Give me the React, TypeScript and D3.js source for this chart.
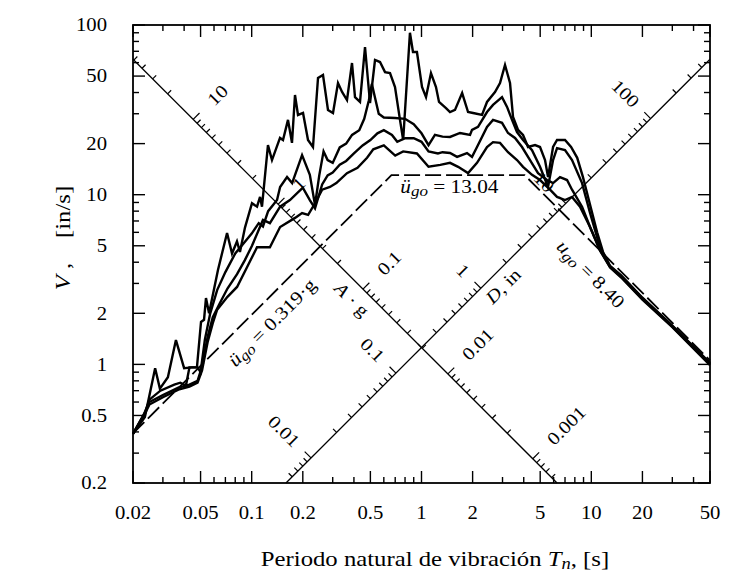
import React from 'react';
import * as d3 from 'd3';

// ---------- axis tick labels ----------
const periodTicks = [0.02, 0.05, 0.1, 0.2, 0.5, 1, 2, 5, 10, 20, 50];
const periodTickLabels = ['0.02', '0.05', '0.1', '0.2', '0.5', '1', '2', '5', '10', '20', '50'];
const velocityTicks = [0.2, 0.5, 1, 2, 5, 10, 20, 50, 100];
const velocityTickLabels = ['0.2', '0.5', '1', '2', '5', '10', '20', '50', '100'];

// ---------- tripartite reference axes ----------
const accelTickLabels = [10, 1, 0.1, 0.01, 0.001]; // A/g
const accelTickText = ['10', '1', '0.1', '0.01', '0.001'];
const dispTickLabels = [0.01, 0.1, 1, 10, 100]; // D, in
const dispTickText = ['0.01', '0.1', '1', '10', '100'];
const refLineV = 1.2566; // V (in/s) at Tn = 1 s where both reference axes cross
const gravity = 386.09; // in/s^2

// ---------- ground motion peaks ----------
const groundAccelG = 0.319;
const groundVel = 13.04;
const groundDisp = 8.4;

// ---------- response spectra: [Tn (s), V (in/s)] ----------
const spectrumZeta0: [number, number][] = [
  [0.02, 0.39], [0.0235, 0.49], [0.027, 0.95], [0.0288, 0.72], [0.0321, 0.84], [0.0358, 1.39],
  [0.04, 0.95], [0.0445, 0.96], [0.0476, 0.96], [0.0503, 1.78], [0.0524, 1.83], [0.0538, 2.46],
  [0.0561, 2.0], [0.0633, 3.6], [0.0716, 5.95], [0.0766, 4.5], [0.0819, 5.3], [0.0853, 4.6],
  [0.0913, 6.4], [0.1004, 8.9], [0.1075, 8.5], [0.112, 9.7], [0.115, 8.5], [0.1247, 19.6],
  [0.1317, 16.0], [0.1468, 21.6], [0.1529, 21.0], [0.1636, 27.6], [0.1727, 20.2], [0.1799, 38.7],
  [0.1874, 29.5], [0.2006, 30.3], [0.2146, 21.0], [0.2296, 19.1], [0.2458, 48.7], [0.263, 50.7],
  [0.2814, 31.6], [0.3012, 30.3], [0.3223, 45.5], [0.3406, 40.3], [0.3641, 36.1], [0.3897, 59.7],
  [0.4059, 37.6], [0.4344, 35.2], [0.4649, 74.2], [0.4975, 34.7], [0.5324, 62.2], [0.5697, 60.5],
  [0.6097, 52.8], [0.6524, 52.1], [0.6982, 43.1], [0.747, 27.6], [0.78, 21.0], [0.855, 90.0],
  [0.891, 69.3], [0.94, 69.3], [1.007, 43.1], [1.063, 37.6], [1.137, 52.1], [1.217, 43.1],
  [1.268, 35.2], [1.394, 32.4], [1.472, 30.7], [1.575, 31.6], [1.735, 39.7], [1.88, 30.7],
  [2.013, 30.3], [2.272, 29.5], [2.431, 35.2], [2.709, 40.3], [2.9, 45.5], [3.103, 58.1],
  [3.321, 45.5], [3.46, 28.7], [3.703, 24.1], [3.962, 22.5], [4.24, 19.1], [4.662, 19.6],
  [4.988, 19.1], [5.339, 16.0], [5.561, 12.7], [5.953, 19.1], [6.283, 21.0], [7.0, 21.0],
  [7.6, 19.1], [8.26, 16.5], [8.93, 12.7], [9.57, 9.7], [10.82, 6.0], [11.72, 4.6],
  [12.9, 3.8], [15, 3.35], [20, 2.47], [30, 1.69], [50, 1.02],
];

const spectrumZeta2: [number, number][] = [
  [0.02, 0.39], [0.0235, 0.52], [0.025, 0.62], [0.029, 0.7], [0.035, 0.76], [0.038, 0.78],
  [0.041, 0.75], [0.043, 0.96], [0.048, 0.96], [0.05, 0.9], [0.053, 1.4], [0.057, 2.0],
  [0.0626, 2.74], [0.07, 3.5], [0.08, 4.5], [0.09, 5.2], [0.1, 5.9], [0.11, 6.8],
  [0.1165, 6.5], [0.125, 8.0], [0.141, 9.3], [0.147, 11.1], [0.1615, 12.7], [0.173, 11.7],
  [0.198, 17.1], [0.22, 13.1], [0.236, 8.7], [0.25, 13], [0.265, 18], [0.28, 16],
  [0.3, 15.4], [0.33, 19], [0.36, 20], [0.39, 22.5], [0.43, 24], [0.46, 28],
  [0.49, 36], [0.51, 45], [0.53, 38], [0.56, 30], [0.6, 28.5], [0.7, 28.3],
  [0.8, 28], [0.9, 26], [1.0, 23], [1.1, 19.6], [1.2, 22.5], [1.33, 22],
  [1.472, 21.9], [1.686, 23.1], [1.931, 22.5], [1.984, 24.1], [2.152, 25.1], [2.431, 30.7],
  [2.637, 33.8], [2.98, 37.6], [3.19, 32.9], [3.413, 27.6], [3.652, 23.4], [3.962, 21.0],
  [4.476, 18.3], [4.988, 14.6], [5.561, 11.1], [5.953, 16.0], [6.283, 18.8], [7.0, 18.3],
  [7.7, 16.0], [8.82, 11.7], [9.83, 7.8], [11.25, 4.9], [12.9, 3.78], [15, 3.3],
  [20, 2.45], [30, 1.68], [50, 1.01],
];

const spectrumZeta5: [number, number][] = [
  [0.02, 0.39], [0.023, 0.5], [0.025, 0.6], [0.03, 0.66], [0.037, 0.73], [0.043, 0.76],
  [0.048, 0.8], [0.051, 0.97], [0.055, 1.45], [0.059, 1.9], [0.065, 2.3], [0.072, 2.8],
  [0.082, 3.4], [0.091, 4.1], [0.1004, 5.0], [0.1165, 7.1], [0.128, 6.8], [0.147, 8.5],
  [0.168, 9.3], [0.2, 11.0], [0.22, 9.3], [0.236, 8.3], [0.26, 11.5], [0.28, 13],
  [0.3, 13.5], [0.33, 15], [0.36, 15.8], [0.4, 17.5], [0.45, 19.5], [0.5, 21],
  [0.55, 23], [0.6, 24], [0.67, 22.5], [0.72, 20.5], [0.8, 21.5], [0.9, 21.5],
  [1.0, 20.5], [1.1, 18], [1.25, 17.5], [1.33, 17.8], [1.472, 17.6], [1.62, 16.7],
  [1.854, 17.6], [1.984, 16.7], [2.123, 19.1], [2.431, 25.1], [2.637, 27.6], [2.98, 26.5],
  [3.232, 23.1], [3.554, 21.6], [3.908, 19.1], [4.356, 16.0], [4.856, 13.4], [5.486, 12.2],
  [5.953, 11.7], [6.544, 12.7], [7.196, 12.2], [7.7, 10.7], [8.82, 8.5], [9.83, 6.45],
  [11.25, 4.7], [12.9, 3.75], [15, 3.28], [20, 2.43], [30, 1.67], [50, 1.0],
];

const spectrumZeta10: [number, number][] = [
  [0.02, 0.39], [0.023, 0.49], [0.025, 0.58], [0.03, 0.64], [0.037, 0.71], [0.043, 0.74],
  [0.048, 0.78], [0.051, 0.92], [0.055, 1.35], [0.059, 1.75], [0.0626, 2.1], [0.072, 2.5],
  [0.082, 2.86], [0.094, 3.75], [0.1075, 4.9], [0.128, 4.9], [0.147, 6.45], [0.18, 7.3],
  [0.198, 7.8], [0.215, 7.6], [0.236, 8.9], [0.26, 10.7], [0.289, 11.1], [0.315, 11.7],
  [0.364, 13.4], [0.42, 14.4], [0.478, 16.5], [0.52, 18.5], [0.6, 19.5], [0.7, 17],
  [0.78, 18], [0.94, 17.5], [1.1, 14.6], [1.29, 15], [1.472, 15.4], [1.643, 14.6],
  [1.88, 13.4], [2.123, 15.4], [2.431, 19.1], [2.637, 20.4], [2.9, 20.2], [3.232, 17.8],
  [3.652, 16.0], [3.962, 14.6], [4.476, 13.1], [4.988, 12.2], [5.713, 10.7], [6.283, 9.7],
  [7.0, 9.3], [7.7, 9.7], [8.58, 8.5], [9.83, 6.45], [11.25, 4.7], [12.9, 3.72],
  [15, 3.25], [20, 2.41], [30, 1.66], [50, 0.99],
];

const spectra = [spectrumZeta0, spectrumZeta2, spectrumZeta5, spectrumZeta10];

type Tick = { v: number; major: boolean };
function logTicks(lo: number, hi: number, majors: number[]): Tick[] {
  const out: Tick[] = [];
  for (let e = Math.floor(Math.log10(lo)) - 1; e <= Math.ceil(Math.log10(hi)); e++) {
    for (let k = 1; k <= 9; k++) {
      const v = +(k * Math.pow(10, e)).toPrecision(6);
      if (v >= lo * 0.999 && v <= hi * 1.001) out.push({ v, major: majors.includes(k) });
    }
  }
  return out;
}

const FONT = "'Liberation Serif','Times New Roman',Times,serif";
const SX = 1.15;

function Label(props: {
  x: number; y: number; rot?: number; anchor?: string; size: number; dy?: string; children: React.ReactNode; italic?: boolean;
}) {
  const { x, y, rot = 0, anchor = 'middle', size, dy = '0.35em', children, italic } = props;
  return (
    <g transform={`translate(${x},${y}) rotate(${rot}) scale(${SX},1)`}>
      <text
        textAnchor={anchor as any}
        fontSize={size}
        dy={dy}
        fontFamily={FONT}
        fontStyle={italic ? 'italic' : 'normal'}
        fill="#000"
        style={{ whiteSpace: 'pre' }}
      >
        {children}
      </text>
    </g>
  );
}

export default function App() {
  const W = 756, H = 577;
  const L = 133, R = 710, TOP = 25, B = 483;
  const x = d3.scaleLog().domain([0.02, 50]).range([L, R]);
  const y = d3.scaleLog().domain([0.2, 100]).range([B, TOP]);
  const line = d3.line<[number, number]>().x(d => x(d[0])).y(d => y(d[1]));

  const xt = logTicks(0.02, 50, [1, 2, 5]);
  const yt = logTicks(0.2, 100, [1, 2, 5]);
  const MAJ = 12, MIN = 6;

  // reference axes
  const descEnds: [number, number][] = [[0.02, refLineV / 0.02], [refLineV / 0.2, 0.2]];
  const ascEnds: [number, number][] = [[0.2 / refLineV, 0.2], [50, 50 * refLineV]];
  const unit = (p: [number, number][]) => {
    const dx = x(p[1][0]) - x(p[0][0]);
    const dy = y(p[1][1]) - y(p[0][1]);
    const l = Math.hypot(dx, dy);
    return [dx / l, dy / l];
  };
  const dD = unit(descEnds);
  const dA = unit(ascEnds);
  const nD = [dD[1], -dD[0]]; // upper-right of descending line
  const nA = [dA[1], -dA[0]]; // upper-left of ascending line
  const deg = (a: number) => (a * 180) / Math.PI;

  const accelT = (A: number) => Math.sqrt((2 * Math.PI * refLineV) / (A * gravity));
  const dispT = (D: number) => Math.sqrt((2 * Math.PI * D) / refLineV);
  const onDesc = (T: number) => [x(T), y(refLineV / T)];
  const onAsc = (T: number) => [x(T), y(refLineV * T)];

  const accelTicks = logTicks(0.0001, 100, [1]).filter(t => {
    const T = accelT(t.v);
    return T >= 0.02 && T <= refLineV / 0.2;
  });
  const dispTicks = logTicks(0.001, 1000, [1]).filter(t => {
    const T = dispT(t.v);
    return T >= 0.2 / refLineV && T <= 50;
  });
  const DT_MAJ = 9, DT_MIN = 5;

  // ground-motion bounds (dashed)
  const aIn = groundAccelG * gravity;
  const T1 = (2 * Math.PI * groundVel) / aIn;
  const T2 = (2 * Math.PI * groundDisp) / groundVel;
  const bound: [number, number][] = [
    [0.02, (aIn * 0.02) / (2 * Math.PI)],
    [T1, groundVel],
    [T2, groundVel],
    [50, (2 * Math.PI * groundDisp) / 50],
  ];
  const ascBoundDir = unit([bound[0], bound[1]]);
  const descBoundDir = unit([bound[2], bound[3]]);
  const accAnnT = 0.109;
  const accAnnP = [x(accAnnT), y((aIn * accAnnT) / (2 * Math.PI))];
  const accAnnN = [-ascBoundDir[1], ascBoundDir[0]]; // lower-right
  const dispAnnT = 12.4;
  const dispAnnP = [x(dispAnnT), y((2 * Math.PI * groundDisp) / dispAnnT)];
  const dispAnnN = [descBoundDir[1] * -1, descBoundDir[0]]; // lower-left

  const accTitleP = onDesc(0.45);
  const dispTitleP = onAsc(2.64);

  return (
    <svg width={W} height={H} style={{ position: 'absolute', left: 0, top: 0, background: '#fff' }}>
      <rect x={0} y={0} width={W} height={H} fill="#fff" />

      {/* reference axes */}
      <path d={line(descEnds) || ''} stroke="#000" strokeWidth={1.3} fill="none" />
      <path d={line(ascEnds) || ''} stroke="#000" strokeWidth={1.3} fill="none" />
      {accelTicks.map((t, i) => {
        const [px, py] = onDesc(accelT(t.v));
        const len = t.major ? DT_MAJ : DT_MIN;
        return <line key={'at' + i} x1={px} y1={py} x2={px + nD[0] * len} y2={py + nD[1] * len} stroke="#000" strokeWidth={1.2} />;
      })}
      {dispTicks.map((t, i) => {
        const [px, py] = onAsc(dispT(t.v));
        const len = t.major ? DT_MAJ : DT_MIN;
        return <line key={'dt' + i} x1={px} y1={py} x2={px + nA[0] * len} y2={py + nA[1] * len} stroke="#000" strokeWidth={1.2} />;
      })}
      {accelTickLabels.map((A, i) => {
        const [px, py] = onDesc(accelT(A));
        return (
          <Label key={'al' + i} x={px + nD[0] * 24} y={py + nD[1] * 24} rot={deg(Math.atan2(nD[1], nD[0]))} anchor="start" size={18}>
            {accelTickText[i]}
          </Label>
        );
      })}
      {dispTickLabels.map((D, i) => {
        const [px, py] = onAsc(dispT(D));
        return (
          <Label key={'dl' + i} x={px + nA[0] * 20} y={py + nA[1] * 20} rot={deg(Math.atan2(-nA[1], -nA[0]))} anchor="end" size={18}>
            {dispTickText[i]}
          </Label>
        );
      })}
      <Label x={accTitleP[0] - nD[0] * 15} y={accTitleP[1] - nD[1] * 15} rot={deg(Math.atan2(dD[1], dD[0]))} size={18}>
        <tspan fontStyle="italic">A</tspan>
        <tspan> · g</tspan>
      </Label>
      <Label x={dispTitleP[0] - nA[0] * 14} y={dispTitleP[1] - nA[1] * 14} rot={deg(Math.atan2(dA[1], dA[0]))} size={18}>
        <tspan fontStyle="italic">D</tspan>
        <tspan>, in</tspan>
      </Label>

      {/* ground-motion bounds */}
      <path d={line(bound) || ''} stroke="#000" strokeWidth={1.8} fill="none" strokeDasharray="16 5" />

      {/* spectra */}
      {spectra.map((s, i) => (
        <path key={'s' + i} d={line(s) || ''} stroke="#000" strokeWidth={2.4} fill="none" strokeLinejoin="miter" />
      ))}

      {/* annotations */}
      <Label x={x(0.75)} y={y(groundVel) + 18} anchor="start" dy="0" size={18.5}>
        <tspan fontStyle="italic">ü</tspan>
        <tspan fontStyle="italic" fontSize="0.8em" dy="3">go</tspan>
        <tspan dy="-3">{' = ' + groundVel.toFixed(2)}</tspan>
      </Label>
      <Label
        x={accAnnP[0] + accAnnN[0] * 19.5}
        y={accAnnP[1] + accAnnN[1] * 19.5}
        rot={deg(Math.atan2(ascBoundDir[1], ascBoundDir[0]))}
        size={18.5}
      >
        <tspan fontStyle="italic">ü</tspan>
        <tspan fontStyle="italic" fontSize="0.8em" dy="3">go</tspan>
        <tspan dy="-3">{' = ' + groundAccelG.toFixed(3) + '·g'}</tspan>
      </Label>
      <Label
        x={dispAnnP[0] + dispAnnN[0] * 23}
        y={dispAnnP[1] + dispAnnN[1] * 23}
        rot={deg(Math.atan2(descBoundDir[1], descBoundDir[0]))}
        size={18.5}
      >
        <tspan fontStyle="italic">u</tspan>
        <tspan fontStyle="italic" fontSize="0.8em" dy="3">go</tspan>
        <tspan dy="-3">{' = ' + groundDisp.toFixed(2)}</tspan>
      </Label>

      {/* frame + ticks */}
      <rect x={L} y={TOP} width={R - L} height={B - TOP} fill="none" stroke="#000" strokeWidth={1.8} />
      {xt.map((t, i) => {
        const px = x(t.v);
        const len = t.major ? MAJ : MIN;
        return (
          <g key={'xt' + i}>
            <line x1={px} x2={px} y1={B} y2={B - len} stroke="#000" strokeWidth={1.4} />
            <line x1={px} x2={px} y1={TOP} y2={TOP + len} stroke="#000" strokeWidth={1.4} />
          </g>
        );
      })}
      {yt.map((t, i) => {
        const py = y(t.v);
        const len = t.major ? MAJ : MIN;
        return (
          <g key={'yt' + i}>
            <line x1={L} x2={L + len} y1={py} y2={py} stroke="#000" strokeWidth={1.4} />
            <line x1={R} x2={R - len} y1={py} y2={py} stroke="#000" strokeWidth={1.4} />
          </g>
        );
      })}
      {periodTicks.map((v, i) => (
        <Label key={'xl' + i} x={x(v)} y={513} size={18}>
          {periodTickLabels[i]}
        </Label>
      ))}
      {velocityTicks.map((v, i) => (
        <Label key={'yl' + i} x={107} y={y(v)} anchor="end" size={18}>
          {velocityTickLabels[i]}
        </Label>
      ))}

      {/* axis titles */}
      <Label x={435} y={566} dy="0" size={21.5}>
        <tspan>Periodo natural de vibración </tspan>
        <tspan fontStyle="italic">T</tspan>
        <tspan fontStyle="italic" fontSize="0.75em" dy="3">n</tspan>
        <tspan dy="-3">, [s]</tspan>
      </Label>
      <Label x={62} y={238} rot={-90} size={21.5}>
        <tspan fontStyle="italic">V</tspan>
        <tspan>{' ,    [in/s]'}</tspan>
      </Label>
    </svg>
  );
}
